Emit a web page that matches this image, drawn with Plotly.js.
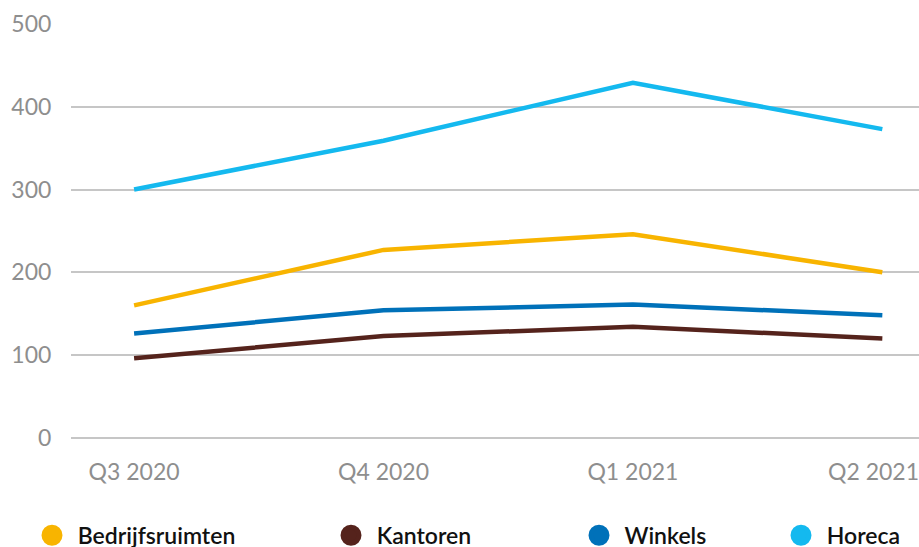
<!DOCTYPE html>
<html>
<head>
<meta charset="utf-8">
<script src="https://cdn.plot.ly/plotly-3.0.1.min.js"></script>
<style>html,body{margin:0;padding:0;background:#fff;}#chart{width:919px;height:547px;}</style>
</head>
<body>
<div id="chart"></div>
<script>
const quarters = ["Q3 2020", "Q4 2020", "Q1 2021", "Q2 2021"];
// tick labels (last one padded so it stays inside the picture, as in the reference)
const quarterLabels = ["Q3 2020", "Q4 2020", "Q1 2021", "Q2 2021\u00a0\u00a0\u00a0"];
const bedrijfsruimten = [160, 227, 246, 200];
const kantoren = [96, 123, 134, 120];
const winkels = [126, 154, 161, 148];
const horeca = [300, 359, 429, 373];
const seriesNames = ["Bedrijfsruimten", "Kantoren", "Winkels", "Horeca"];
const seriesColors = ["#F8B400", "#55231C", "#0071B9", "#14B9EF"];
const yTicks = [0, 100, 200, 300, 400, 500];

const values = [bedrijfsruimten, kantoren, winkels, horeca];
const legendNames = ["legend", "legend2", "legend3", "legend4"];
const legendPx = [32, 331, 579, 781];

const traces = [];
values.forEach((v, i) => {
  traces.push({
    type: "scatter", mode: "lines", x: quarters, y: v, name: seriesNames[i],
    line: {color: seriesColors[i], width: 4.5}, showlegend: false, hoverinfo: "skip"
  });
});
values.forEach((v, i) => {
  traces.push({
    type: "scatter", mode: "markers", x: [null], y: [null], name: "\u00a0" + seriesNames[i],
    marker: {color: seriesColors[i], size: 24, symbol: "circle", line: {color: seriesColors[i], width: 5}},
    showlegend: true, legend: legendNames[i]
  });
});

const L = 71, W = 848;
const tickFont = {family: "Lato, sans-serif", size: 23, color: "#8e8e8e"};
const layout = {
  width: 919, height: 547,
  margin: {l: L, r: 0, t: 24, b: 108, autoexpand: false},
  paper_bgcolor: "#fff", plot_bgcolor: "#fff",
  font: {family: "Lato, 'Open Sans', sans-serif", color: "#8e8e8e", size: 23},
  showlegend: true,
  xaxis: {
    type: "category", range: [-0.253, 3.147], showgrid: false, zeroline: false, showline: false,
    tickvals: quarters, ticktext: quarterLabels,
    ticks: "outside", ticklen: 12, tickcolor: "rgba(0,0,0,0)",
    tickfont: tickFont, fixedrange: true
  },
  yaxis: {
    range: [-1.5, 500], tickvals: yTicks, showgrid: true, gridcolor: "#c6c6c6", gridwidth: 2,
    zeroline: false, showline: false, ticks: "outside", ticklen: 14, tickcolor: "rgba(0,0,0,0)",
    tickfont: tickFont, fixedrange: true
  }
};
legendNames.forEach((ln, i) => {
  layout[ln] = {
    orientation: "h", x: (legendPx[i] - L) / W, xanchor: "left", y: -0.232, yanchor: "middle",
    font: {family: "Lato, sans-serif", size: 23, color: "#111", weight: 600},
    bgcolor: "rgba(0,0,0,0)", itemsizing: "trace"
  };
});
Plotly.newPlot("chart", traces, layout, {displayModeBar: false, staticPlot: true});
</script>
</body>
</html>
